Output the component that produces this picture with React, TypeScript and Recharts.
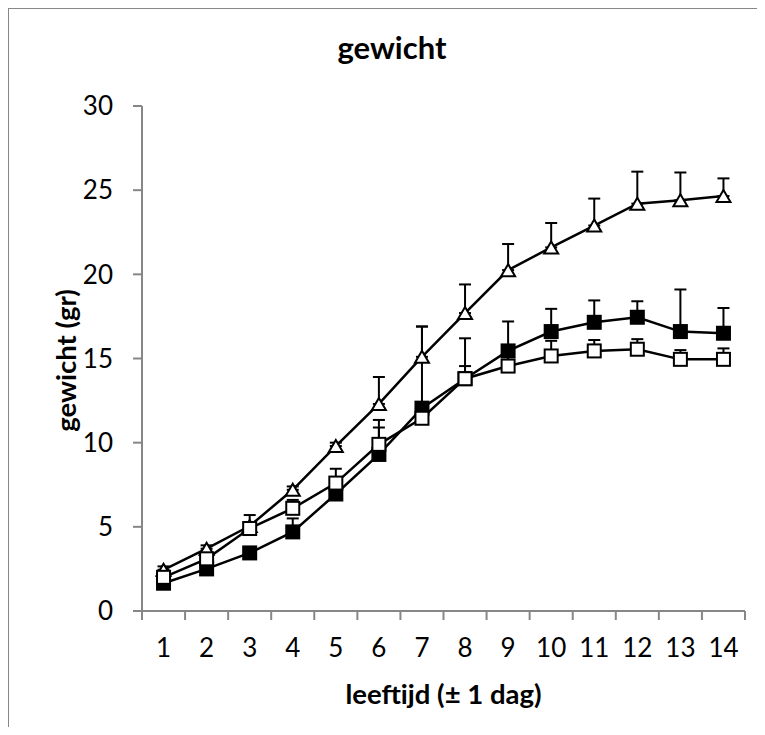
import React from 'react';
import { LineChart, Line, XAxis, YAxis, ErrorBar, Label } from 'recharts';

// Age in days (x axis)
const days = [1, 2, 3, 4, 5, 6, 7, 8, 9, 10, 11, 12, 13, 14];

// Mean weight (gr) per group
const triangleValues = [2.45, 3.7, 5.05, 7.2, 9.8, 12.3, 15.1, 17.7, 20.25, 21.6, 22.9, 24.2, 24.4, 24.65];
const filledSquareValues = [1.65, 2.5, 3.45, 4.7, 6.95, 9.3, 12.05, 13.8, 15.45, 16.6, 17.15, 17.45, 16.6, 16.5];
const openSquareValues = [2.0, 3.1, 4.9, 6.1, 7.6, 9.9, 11.45, 13.8, 14.55, 15.15, 15.45, 15.55, 14.95, 14.95];

// Upward error (sd) per group
const triangleErrors = [0.2, 0.2, 0.2, 0.2, 0.2, 1.6, 1.8, 1.7, 1.55, 1.45, 1.6, 1.9, 1.65, 1.05];
const filledSquareErrors = [0.2, 0.2, 0.2, 0.8, 0.2, 2.05, 4.85, 2.4, 1.75, 1.35, 1.3, 0.95, 2.5, 1.5];
const openSquareErrors = [0.2, 0.2, 0.8, 0.5, 0.85, 1.0, 0.2, 0.75, 1.15, 0.9, 0.65, 0.6, 0.55, 0.65];

const yTicks = [0, 5, 10, 15, 20, 25, 30];
// category boundaries get tick marks, the centres get labels
const xTicks = [0.5, ...days.flatMap((d) => [d, d + 0.5])];

const data = days.map((day, i) => ({
  day,
  triangle: triangleValues[i],
  filled: filledSquareValues[i],
  open: openSquareValues[i],
  triangleErr: [0, triangleErrors[i]],
  filledErr: [0, filledSquareErrors[i]],
  openErr: [0, openSquareErrors[i]],
}));

const AXIS_GRAY = '#878787';
const FONT = "Lato, 'Open Sans', sans-serif";

const TriangleDot = ({ cx, cy }: any) => {
  if (cx == null || cy == null) return null;
  const w = 7;
  const h = 6;
  return (
    <path
      d={`M${cx},${cy - h} L${cx + w},${cy + h} L${cx - w},${cy + h} Z`}
      fill="#fff"
      stroke="#000"
      strokeWidth={2}
    />
  );
};

const SquareDot = ({ cx, cy, filled }: any) => {
  if (cx == null || cy == null) return null;
  const s = 6.5;
  return (
    <rect
      x={cx - s}
      y={cy - s}
      width={s * 2}
      height={s * 2}
      fill={filled ? '#000' : '#fff'}
      stroke="#000"
      strokeWidth={2}
    />
  );
};

const XTick = ({ x, y, payload }: any) => {
  const v = payload.value;
  if (v % 1 !== 0) {
    return <line x1={x} y1={y - 9} x2={x} y2={y} stroke={AXIS_GRAY} strokeWidth={2} />;
  }
  return (
    <text x={x} y={y + 37} textAnchor="middle" fontSize={26} fill="#000" fontFamily={FONT}>
      {v}
    </text>
  );
};

const App = () => {
  return (
    <div style={{ position: 'relative', width: 757, height: 719, fontFamily: FONT }}>
      {/* no scrollbars: the frame runs off the page edge like in the original */}
      <style>{'html, body { overflow: hidden; }'}</style>
      <div
        style={{
          position: 'absolute',
          left: -1,
          top: -1,
          width: 780,
          height: 760,
          boxSizing: 'border-box',
          borderLeft: `2px solid ${AXIS_GRAY}`,
          borderTop: `2px solid ${AXIS_GRAY}`,
        }}
      />
      <div
        style={{
          position: 'absolute',
          left: 184,
          top: 21,
          width: 400,
          textAlign: 'center',
          fontSize: 31,
          lineHeight: '37px',
          fontWeight: 700,
        }}
      >
        gewicht
      </div>
      <div style={{ position: 'absolute', left: 0, top: 0 }}>
        <LineChart
          width={740}
          height={727}
          data={data}
          margin={{ top: 98, right: 3, left: 0, bottom: 0 }}
        >
          <XAxis
            dataKey="day"
            type="number"
            domain={[0.5, 14.5]}
            ticks={xTicks}
            interval={0}
            allowDataOverflow
            height={124}
            tickSize={9}
            tickMargin={0}
            tickLine={false}
            axisLine={{ stroke: AXIS_GRAY, strokeWidth: 2 }}
            tick={<XTick />}
          >
            <Label
              content={({ viewBox }: any) => (
                <text
                  x={viewBox.x + viewBox.width / 2}
                  y={viewBox.y + 93}
                  textAnchor="middle"
                  fontSize={27.5}
                  fontWeight={700}
                  fontFamily={FONT}
                  fill="#000"
                >
                  leeftijd (± 1 dag)
                </text>
              )}
            />
          </XAxis>
          <YAxis
            type="number"
            domain={[0, 30]}
            ticks={yTicks}
            interval={0}
            width={134}
            tickSize={9}
            tickMargin={20}
            axisLine={{ stroke: AXIS_GRAY, strokeWidth: 2 }}
            tickLine={{ stroke: AXIS_GRAY, strokeWidth: 2 }}
            tick={{ fill: '#000', fontSize: 26, fontFamily: FONT }}
          >
            <Label
              content={({ viewBox }: any) => {
                const cx = 57;
                const cy = viewBox.y + viewBox.height / 2 + 2;
                return (
                  <text
                    x={cx}
                    y={cy}
                    transform={`rotate(-90, ${cx}, ${cy})`}
                    textAnchor="middle"
                    dominantBaseline="central"
                    fontSize={27.5}
                    fontWeight={700}
                    fontFamily={FONT}
                    fill="#000"
                  >
                    gewicht (gr)
                  </text>
                );
              }}
            />
          </YAxis>
          <Line
            dataKey="triangle"
            stroke="#000"
            strokeWidth={2.5}
            dot={<TriangleDot />}
            activeDot={false}
            isAnimationActive={false}
          >
            <ErrorBar dataKey="triangleErr" direction="y" width={6} stroke="#000" strokeWidth={2} />
          </Line>
          <Line
            dataKey="filled"
            stroke="#000"
            strokeWidth={2.5}
            dot={<SquareDot filled />}
            activeDot={false}
            isAnimationActive={false}
          >
            <ErrorBar dataKey="filledErr" direction="y" width={6} stroke="#000" strokeWidth={2} />
          </Line>
          <Line
            dataKey="open"
            stroke="#000"
            strokeWidth={2.5}
            dot={<SquareDot />}
            activeDot={false}
            isAnimationActive={false}
          >
            <ErrorBar dataKey="openErr" direction="y" width={6} stroke="#000" strokeWidth={2} />
          </Line>
        </LineChart>
      </div>
    </div>
  );
};

export default App;
